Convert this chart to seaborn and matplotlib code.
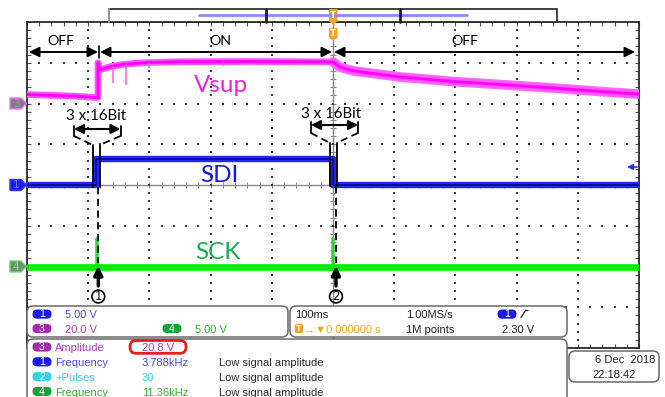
import numpy as np
import pandas as pd
import matplotlib
matplotlib.use("Agg")
import matplotlib.pyplot as plt
from matplotlib.patches import FancyBboxPatch, Polygon, Circle, Rectangle
import seaborn as sns

# ---------------------------------------------------------------------------
# Acquisition data: time in ms (100 ms/div, trigger at t = 0), volts per channel
# ---------------------------------------------------------------------------
ch_scale = {"Vsup": 20.0, "SDI": 5.0, "SCK": 5.0}      # volts / division
ch_offset = {"Vsup": 2.0, "SDI": 0.0, "SCK": -2.0}      # ground position, divisions

# Channel 3: supply voltage
vsup_t = [-500, -450, -420, -386, -384, -384, -381, -372, -362, -345, -320,
          -300, -250, -136, -50, 0, 11, 33, 110, 196, 273, 360, 436, 500]
vsup_v = [4.4, 3.9, 3.6, 2.9, 2.9, 20.0, 16.4, 17.4, 18.2, 19.1, 19.8,
          20.1, 20.5, 20.6, 20.5, 20.4, 17.9, 16.0, 13.0, 10.8, 9.3, 7.6, 5.9, 4.6]
# short dropouts on the supply while it is switched on
vsup_dip_t = [-359, -338, -300, -180]
vsup_dip_top = [18.3, 19.4, 20.1, 20.6]
vsup_dip_low = [10.1, 9.1, 17.3, 18.6]

# Channel 1: SDI data line
sdi_t = [-500, -388, -388, 0, 0, 500]
sdi_v = [0.0, 0.0, 3.15, 3.15, 0.0, 0.0]

# Channel 4: SCK clock, two bursts of 3 x 16 bit
sck_t = [-500, -388, -388, -386, -386, -1.5, -1.5, 0.5, 0.5, 500]
sck_v = [0.0, 0.0, 3.5, 3.5, 0.0, 0.0, 3.5, 3.5, 0.0, 0.0]

# Readout panels
vert_settings = [("1", "5.00 V"), ("3", "20.0 V"), ("4", "5.00 V")]
meas_src = ["3", "1", "2", "4"]
meas_name = ["Amplitude", "Frequency", "+Pulses", "Frequency"]
meas_value = ["20.8 V", "3.788kHz", "30", "11.36kHz"]
meas_note = ["", "Low signal amplitude", "Low signal amplitude", "Low signal amplitude"]
horiz_scale = "100ms"
trig_pos = "0.000000 s"
sample_rate = "1.00MS/s"
record_len = "1M points"
trig_level = "2.30 V"
date_str = "6 Dec  2018"
time_str = "22:18:42"

pill_color = {"1": "#1a1aee", "2": "#36d3dc", "3": "#9a2fa6", "4": "#14a43a"}
text_color = {"1": "#4a4aff", "2": "#34cfe0", "3": "#b23cc0", "4": "#2db52d"}
orange = "#f5a21a"


def to_div(ch, volts):
    return ch_offset[ch] + np.asarray(volts, dtype=float) / ch_scale[ch]


def frame(ch, t, v):
    return pd.DataFrame({"t": t, "div": to_div(ch, v)})


sns.set_theme(style="white")
plt.rcParams["font.family"] = ["Liberation Sans", "DejaVu Sans"]

W, H = 665, 397
L, R, T, B = 27, 639, 22, 348
fig = plt.figure(figsize=(W / 100, H / 100), dpi=100)
fig.patch.set_facecolor("white")
ax = fig.add_axes([L / W, 1 - B / H, (R - L) / W, (B - T) / H])
ax.set_xlim(-500, 500)
ax.set_ylim(-4, 4)
ax.set_facecolor("white")

# --- graticule -------------------------------------------------------------
minor_x = np.arange(-500, 501, 20)
minor_y = np.round(np.arange(-4, 4.001, 0.2), 3)
dot = dict(ls="none", marker="s", ms=1.5, mew=0, color="#3c3c3c", zorder=1.5)
for x in range(-400, 401, 100):
    if x != 0:
        ax.plot(np.full(minor_y.size, x), minor_y, **dot)
for y in range(-3, 4):
    if y != 0:
        ax.plot(minor_x, np.full(minor_x.size, y), **dot)
ax.axvline(0, color="#8a8a8a", lw=1.0, zorder=1)
ax.axhline(0, color="#8a8a8a", lw=1.0, zorder=1)
ax.vlines(minor_x, -0.07, 0.07, color="#8a8a8a", lw=0.8, zorder=1)
ax.hlines(minor_y, -5, 5, color="#8a8a8a", lw=0.8, zorder=1)
ax.set_xticks(minor_x)
ax.set_yticks(minor_y)
ax.tick_params(direction="in", length=3, width=0.8, color="#555555",
               top=True, right=True, bottom=True, left=True,
               labelbottom=False, labelleft=False)
for sp in ax.spines.values():
    sp.set_color("#2a2a2a")
    sp.set_linewidth(1.3)

# --- traces ----------------------------------------------------------------
vs = frame("Vsup", vsup_t, vsup_v)
vs_decay = vs[vs["t"] >= 0]
sns.lineplot(data=vs_decay, x="t", y="div", ax=ax, sort=False, estimator=None,
             color="#ff6bff", lw=7.0, zorder=3)
sns.lineplot(data=vs, x="t", y="div", ax=ax, sort=False, estimator=None,
             color="#ff55ff", lw=4.8, zorder=3)
sns.lineplot(data=vs, x="t", y="div", ax=ax, sort=False, estimator=None,
             color="#ff00ff", lw=2.0, zorder=3)
ax.vlines(vsup_dip_t, to_div("Vsup", vsup_dip_low), to_div("Vsup", vsup_dip_top),
          color="#ff55ff", lw=1.1, zorder=3)

sd = frame("SDI", sdi_t, sdi_v)
sns.lineplot(data=sd, x="t", y="div", ax=ax, sort=False, estimator=None,
             color="#2626f2", lw=4.6, zorder=4)
sns.lineplot(data=sd, x="t", y="div", ax=ax, sort=False, estimator=None,
             color="#0c0c9c", lw=1.4, zorder=4)

sk = frame("SCK", sck_t, sck_v)
sk_low = frame("SCK", sck_t, np.minimum(sck_v, min(sck_v)))
sns.lineplot(data=sk, x="t", y="div", ax=ax, sort=False, estimator=None,
             color="#36d436", lw=1.8, zorder=4)
sns.lineplot(data=sk_low, x="t", y="div", ax=ax, sort=False, estimator=None,
             color="#00ee00", lw=4.8, zorder=4)
ax.set_xlabel("")
ax.set_ylabel("")

# --- overlay in pixel coordinates -------------------------------------------
ov = fig.add_axes([0, 0, 1, 1], zorder=10)
ov.set_xlim(0, W)
ov.set_ylim(H, 0)
ov.axis("off")
ov.patch.set_alpha(0)

ann = dict(family=["Lato", "DejaVu Sans"], color="black")


def dbl_arrow(x0, x1, y, ms=15, lw=1.4):
    ov.annotate("", xy=(x0, y), xytext=(x1, y),
                arrowprops=dict(arrowstyle="<|-|>", color="black", lw=lw,
                                mutation_scale=ms, shrinkA=0, shrinkB=0))


# ON / OFF phases
ov.text(60.5, 45, "OFF", ha="center", va="baseline", fontsize=10.3, **ann)
ov.text(220, 45, "ON", ha="center", va="baseline", fontsize=10.3, **ann)
ov.text(465, 45, "OFF", ha="center", va="baseline", fontsize=10.3, **ann)
dbl_arrow(29, 98, 52)
dbl_arrow(100, 332, 52)
dbl_arrow(334, 635, 52)
ov.plot([99.3, 99.3], [46, 58], color="black", lw=1.2)

# channel labels
ov.text(194, 92, "Vsup", color="#ee22dd", fontsize=17.5, va="baseline",
        family=["Lato", "DejaVu Sans"])
ov.text(200, 181.5, "SDI", color="#1818e6", fontsize=17.5, va="baseline",
        family=["Lato", "DejaVu Sans"])
ov.text(195, 259.3, "SCK", color="#10b04a", fontsize=17.5, va="baseline",
        family=["Lato", "DejaVu Sans"])


def callout(cx, ty, ay, xl, xr, yb, gl, gr, yg, ybot, xd, num):
    ov.text(cx, ty, "3 x 16Bit", ha="center", va="baseline", fontsize=10.8, **ann)
    dbl_arrow(xl, xr, ay, ms=14, lw=1.5)
    ov.plot([xl, xl], [ay - 3, yb], color="black", lw=1.3)
    ov.plot([xr, xr], [ay - 3, yb], color="black", lw=1.3)
    dash = dict(color="black", lw=1.3, ls=(0, (4, 2.5)))
    ov.plot([xl, gl], [yb, yg], **dash)
    ov.plot([xr, gr], [yb, yg], **dash)
    ov.plot([gl, gl], [yg, ybot], color="black", lw=1.3)
    ov.plot([gr, gr], [yg, ybot], color="black", lw=1.3)
    ov.plot([xd, xd], [ybot, 263], **dash)
    ov.annotate("", xy=(xd, 266), xytext=(xd, 286),
                arrowprops=dict(arrowstyle="-|>", color="black", lw=2.4,
                                mutation_scale=13, shrinkA=0, shrinkB=0))
    ov.add_patch(Circle((xd, 296.5), 6.4, fill=False, ec="black", lw=1.2))
    ov.text(xd, 296.8, num, ha="center", va="center", fontsize=8.5,
            family=["DejaVu Sans"], color="black")


callout(96, 120.5, 129, 74, 120.5, 136, 92.5, 99.5, 145, 187, 98.3, "1")
callout(331, 118.3, 125, 311, 358, 133, 330, 336.5, 143, 186, 336, "2")

# channel ground markers
def gnd_marker(y, fill, edge, digit, dcol):
    pts = [(10, y - 5.5), (21, y - 5.5), (26.5, y), (21, y + 5.5), (10, y + 5.5)]
    ov.add_patch(Polygon(pts, closed=True, fc=fill, ec=edge, lw=1.0))
    ov.text(16, y + 0.5, digit, ha="center", va="center", fontsize=7.5,
            color=dcol, family=["DejaVu Sans"])


gnd_marker(185 - ch_offset["Vsup"] * 40.75, "#7e7e7e", "#ff70ff", "3", "#c98ac9")
gnd_marker(185 - ch_offset["SDI"] * 40.75, "#1c1cf0", "#3535ff", "1", "#7070ff")
gnd_marker(185 - ch_offset["SCK"] * 40.75, "#6f8f6f", "#66dd66", "4", "#9ad09a")

# trigger level indicator on the right edge
ov.annotate("", xy=(627, 167), xytext=(637, 167),
            arrowprops=dict(arrowstyle="-|>", color="#2a2aff", lw=1.2,
                            mutation_scale=8, shrinkA=0, shrinkB=0))

# record view bar on top
ov.add_patch(Rectangle((109, 9), 448, 12.5, fc="white", ec="#222222", lw=1.2))
ov.plot([109, 109], [9, 21.5], color="#999999", lw=1.4)
ov.plot([199, 467], [15.2, 15.2], color="#8a8aff", lw=2.0)
ov.plot([266, 266], [9, 21.5], color="#222222", lw=2.0)
ov.plot([400, 400], [9, 21.5], color="#222222", lw=2.0)


def trig_marker(y0, y1):
    pts = [(329.5, y0), (337, y0), (337, y1 - 3), (333.3, y1), (329.5, y1 - 3)]
    ov.add_patch(Polygon(pts, closed=True, fc=orange, ec=orange, lw=0.8))
    ov.text(333.3, (y0 + y1) / 2 - 1.0, "T", ha="center", va="center",
            fontsize=6.5, color="white", fontweight="bold",
            family=["DejaVu Sans"])


trig_marker(9.5, 24)
trig_marker(28.5, 40)

# --- readout panels ---------------------------------------------------------
def panel(x0, y0, x1, y1):
    ov.add_patch(FancyBboxPatch((x0, y0), x1 - x0, y1 - y0,
                                boxstyle="round,pad=0,rounding_size=6",
                                fc="white", ec="#6a6a6a", lw=1.1, zorder=2))


def pill(cx, cy, digit):
    ov.add_patch(FancyBboxPatch((cx - 9.5, cy - 4.6), 19, 9.2,
                                boxstyle="round,pad=0,rounding_size=4.6",
                                fc=pill_color[digit], ec="none", zorder=3))
    ov.text(cx, cy + 0.3, digit, ha="center", va="center", fontsize=7.5,
            color="white", zorder=4)


fs = 8.0
panel(27, 306, 288, 337)
panel(290, 306, 567, 337)
panel(27, 339, 567, 405)
panel(569, 351, 659, 382)

# vertical settings
row_y = [318.3, 332.7]
pill(42, row_y[0] - 4.2, vert_settings[0][0])
ov.text(65, row_y[0], vert_settings[0][1], color=text_color["1"], fontsize=fs,
        va="baseline", zorder=4)
pill(42, row_y[1] - 4.2, vert_settings[1][0])
ov.text(65, row_y[1], vert_settings[1][1], color=text_color["3"], fontsize=fs,
        va="baseline", zorder=4)
pill(172, row_y[1] - 4.2, vert_settings[2][0])
ov.text(195, row_y[1], vert_settings[2][1], color=text_color["4"], fontsize=fs,
        va="baseline", zorder=4)

# horizontal / trigger settings
ov.text(295, row_y[0], horiz_scale, color="#222222", fontsize=fs,
        va="baseline", zorder=4)
ov.add_patch(FancyBboxPatch((295, row_y[1] - 8.8), 8, 9.2,
                            boxstyle="round,pad=0,rounding_size=1.5",
                            fc=orange, ec="none", zorder=3))
ov.text(299, row_y[1] - 4.0, "T", ha="center", va="center", fontsize=6.5,
        color="white", fontweight="bold", zorder=4)
ov.text(304, row_y[1], "\u2192\u25bc" + trig_pos, color=orange, fontsize=fs,
        va="baseline", zorder=4, family=["Liberation Sans", "DejaVu Sans"])
ov.text(406, row_y[0], sample_rate, color="#222222", fontsize=fs,
        va="baseline", zorder=4)
ov.text(406, row_y[1], record_len, color="#222222", fontsize=fs,
        va="baseline", zorder=4)
pill(507, row_y[0] - 4.2, "1")
ov.plot([521, 525.5, 528], [317.5, 310.5, 310.5], color="#222222", lw=0.9,
        zorder=4)
ov.text(501.5, row_y[1], trig_level, color="#222222", fontsize=fs,
        va="baseline", zorder=4)

# measurements
meas_y = [351.2, 366.0, 380.8, 395.6]
for src, name, val, note, yb in zip(meas_src, meas_name, meas_value,
                                    meas_note, meas_y):
    pill(42, yb - 4.2, src)
    ov.text(55, yb, name, color=text_color[src], fontsize=fs, va="baseline",
            zorder=4)
    ov.text(142, yb, val, color=text_color[src], fontsize=fs, va="baseline",
            zorder=4)
    if note:
        ov.text(219, yb, note, color="#2a2a2a", fontsize=fs, va="baseline",
                zorder=4)
ov.add_patch(FancyBboxPatch((130, 340.5), 56, 12.8,
                            boxstyle="round,pad=0,rounding_size=6",
                            fc="none", ec="#e51e1e", lw=2.0, zorder=5))

# date / time
ov.text(655, 363.3, date_str, color="#222222", fontsize=fs, ha="right",
        va="baseline", zorder=4)
ov.text(636, 378.3, time_str, color="#222222", fontsize=fs, ha="right",
        va="baseline", zorder=4)

fig.savefig("out.png", dpi=100, facecolor="white")
